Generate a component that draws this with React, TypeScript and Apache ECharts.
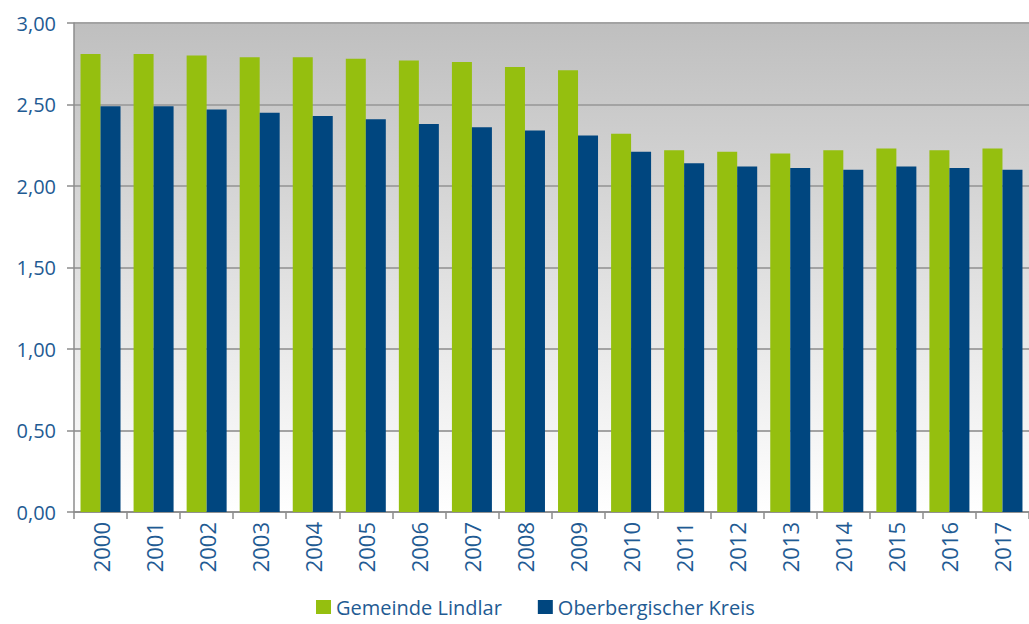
import React, { useEffect, useRef } from "react";
import * as echarts from "echarts";

const years = ["2000","2001","2002","2003","2004","2005","2006","2007","2008","2009","2010","2011","2012","2013","2014","2015","2016","2017"];
const lindlar = [2.81,2.81,2.80,2.79,2.79,2.78,2.77,2.76,2.73,2.71,2.32,2.22,2.21,2.20,2.22,2.23,2.22,2.23];
const kreis = [2.49,2.49,2.47,2.45,2.43,2.41,2.38,2.36,2.34,2.31,2.21,2.14,2.12,2.11,2.10,2.12,2.11,2.10];
const yTicks = [0, 0.5, 1, 1.5, 2, 2.5, 3];

const labelColor = "#1f5b93";
const font = "'Open Sans', 'Noto Sans', sans-serif";

export default function App() {
  const ref = useRef<HTMLDivElement>(null);
  useEffect(() => {
    document.body.style.margin = "0";
    document.body.style.overflow = "hidden";
    const chart = echarts.init(ref.current!, null, { renderer: "svg" });
    chart.setOption({
      animation: false,
      grid: {
        left: 74,
        top: 23,
        width: 962,
        bottom: 112,
        show: true,
        borderWidth: 0,
        backgroundColor: new echarts.graphic.LinearGradient(0, 0, 0, 1, [
          { offset: 0, color: "#bfbfbf" },
          { offset: 1, color: "#ffffff" },
        ]),
      },
      legend: {
        top: 597,
        left: 316,
        padding: 0,
        icon: "rect",
        itemWidth: 15,
        itemHeight: 14,
        itemGap: 36,
        textStyle: { color: labelColor, fontSize: 20, fontFamily: font },
        data: ["Gemeinde Lindlar", "Oberbergischer Kreis"],
      },
      xAxis: {
        type: "category",
        data: years,
        axisLine: { lineStyle: { color: "#8c8c8c", width: 1.5 } },
        axisTick: { show: true, length: 7, lineStyle: { color: "#8c8c8c", width: 1.5 } },
        axisLabel: {
          rotate: 90,
          color: labelColor,
          fontSize: 22,
          fontFamily: font,
          margin: 10,
        },
      },
      yAxis: {
        type: "value",
        min: 0,
        max: 3,
        interval: 0.5,
        axisLine: { show: true, lineStyle: { color: "#8c8c8c", width: 1.5 } },
        axisTick: { show: true, length: 7, lineStyle: { color: "#8c8c8c", width: 1.5 } },
        splitLine: { show: true, lineStyle: { color: "#a3a3a3", width: 2 } },
        axisLabel: {
          color: labelColor,
          fontSize: 20,
          fontFamily: font,
          margin: 18,
          formatter: (v: number) => (yTicks.includes(v) ? v.toFixed(2).replace(".", ",") : ""),
        },
      },
      series: [
        {
          name: "Gemeinde Lindlar",
          type: "bar",
          data: lindlar,
          barWidth: 20,
          barGap: "0%",
          itemStyle: { color: "#95bf0f" },
        },
        {
          name: "Oberbergischer Kreis",
          type: "bar",
          data: kreis,
          barWidth: 20,
          barGap: "0%",
          itemStyle: { color: "#00467f" },
        },
      ],
    });
    return () => chart.dispose();
  }, []);
  return <div ref={ref} style={{ width: 1029, height: 624 }} />;
}
